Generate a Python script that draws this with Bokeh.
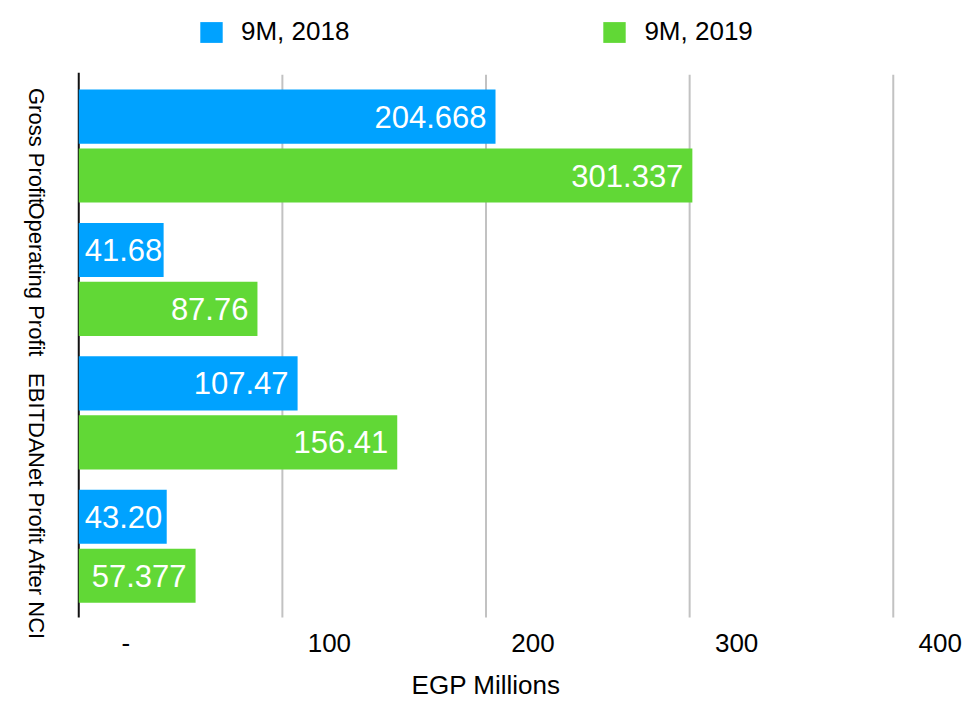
import math
from bokeh.plotting import figure
from bokeh.models import ColumnDataSource, Range1d, Legend, LegendItem
from bokeh.core.properties import value
from bokeh.embed import file_html
from bokeh.resources import INLINE

# ---- data ----
categories = ["Gross Profit", "Operating Profit", "EBITDA", "Net Profit After NCI"]
series = ["9M, 2018", "9M, 2019"]
values_2018 = [204.668, 41.68, 107.47, 43.20]
values_2019 = [301.337, 87.76, 156.41, 57.377]
labels_2018 = ["204.668", "41.68", "107.47", "43.20"]
labels_2019 = ["301.337", "87.76", "156.41", "57.377"]
x_ticks = [0, 100, 200, 300, 400]
x_tick_labels = ["-", "100", "200", "300", "400"]
x_title = "EGP Millions"
colors = ["#00A2FF", "#61D836"]

FONT = "Liberation Sans"
PX_PER_UNIT = 2.036
X_START = -34.5
X_END = 434
FRAME_W = round((X_END - X_START) * PX_PER_UNIT)
N = len(categories)
PX_PER_BAND = 133.4
PAD = 0.034                      # band padding at both ends of the category area
Y_BOTTOM = -PAD                  # bottom of the category area
Y_TOP = N + PAD                  # top of the category area
Y_START = Y_BOTTOM - 83 / PX_PER_BAND   # room below for tick labels and title
Y_END = N + 0.531                # room above for the legend
FRAME_H = round((Y_END - Y_START) * PX_PER_BAND)
OFFSET = 0.221
BAR_H = 0.406

p = figure(frame_width=FRAME_W, frame_height=FRAME_H,
           x_range=Range1d(X_START, X_END),
           y_range=Range1d(Y_START, Y_END),
           output_backend="svg", toolbar_location=None)
p.min_border = 0
p.min_border_left = 8
p.min_border_right = 0
p.min_border_top = 8
p.outline_line_color = None

# hidden default axes and grids
p.xaxis.visible = False
p.yaxis.visible = False
p.xgrid.visible = False
p.ygrid.visible = False

# category positions (top to bottom) on the band scale
ypos = [N - 0.5 - i for i in range(N)]

# grid lines and zero line, limited to the category area
grid_ticks = [t for t in x_ticks if t > 0]
p.segment(x0=grid_ticks, x1=grid_ticks, y0=[Y_BOTTOM] * len(grid_ticks),
          y1=[Y_TOP] * len(grid_ticks), line_color="#C2C2C2", line_width=2)
p.segment(x0=[0], x1=[0], y0=[Y_BOTTOM], y1=[Y_TOP + 0.015],
          line_color="#111111", line_width=2)

# value tick labels (shifted right of their grid lines, as in the reference)
p.text(x=x_ticks, y=[Y_BOTTOM] * len(x_ticks), text=x_tick_labels,
       x_offset=47, y_offset=26, text_align="center", text_baseline="middle",
       text_color="black", text_font=value(FONT), text_font_size="26px")

# axis title
p.text(x=[(x_ticks[0] + x_ticks[-1]) / 2], y=[Y_BOTTOM], text=[x_title],
       y_offset=68, text_align="center", text_baseline="middle",
       text_color="black", text_font=value(FONT), text_font_size="26px")

fits18 = [v > 50 for v in values_2018]
fits19 = [v > 50 for v in values_2019]
source = ColumnDataSource(dict(
    cat=categories,
    y=ypos,
    y18=[y + OFFSET for y in ypos],
    y19=[y - OFFSET for y in ypos],
    zero=[0] * N,
    v18=values_2018, v19=values_2019,
    l18=labels_2018, l19=labels_2019,
    x18=[v if f else 0 for v, f in zip(values_2018, fits18)],
    x19=[v if f else 0 for v, f in zip(values_2019, fits19)],
    a18=["right" if f else "left" for f in fits18],
    a19=["right" if f else "left" for f in fits19],
    o18=[-9 if f else 6 for f in fits18],
    o19=[-9 if f else 6 for f in fits19],
))

# category labels, rotated to read top-to-bottom, left of the zero line
p.text(x="zero", y="y", text="cat", x_offset=-42, angle=-math.pi / 2,
       text_align="center", text_baseline="middle", text_color="black",
       text_font=value(FONT), text_font_size="22px", source=source)

r18 = p.hbar(y="y18", left=0, right="v18", height=BAR_H,
             fill_color=colors[0], line_color=None, source=source)
r19 = p.hbar(y="y19", left=0, right="v19", height=BAR_H,
             fill_color=colors[1], line_color=None, source=source)

for ys, xs, lab, al, off in [("y18", "x18", "l18", "a18", "o18"),
                             ("y19", "x19", "l19", "a19", "o19")]:
    p.text(x=xs, y=ys, text=lab, text_align=al, x_offset=off,
           text_baseline="middle", text_color="white",
           text_font=value(FONT), text_font_size="31px", source=source)

legend = Legend(items=[LegendItem(label=series[0], renderers=[r18]),
                       LegendItem(label=series[1], renderers=[r19])],
                orientation="horizontal",
                location=(189, FRAME_H - 39),
                spacing=251,
                glyph_width=28, glyph_height=26, label_standoff=16,
                label_height=26,
                label_text_font_size="26px", label_text_font=FONT,
                label_text_color="black",
                padding=0, margin=0, border_line_color=None,
                background_fill_alpha=0)
p.add_layout(legend, "center")

open("out.html", "w").write(file_html(p, INLINE))
